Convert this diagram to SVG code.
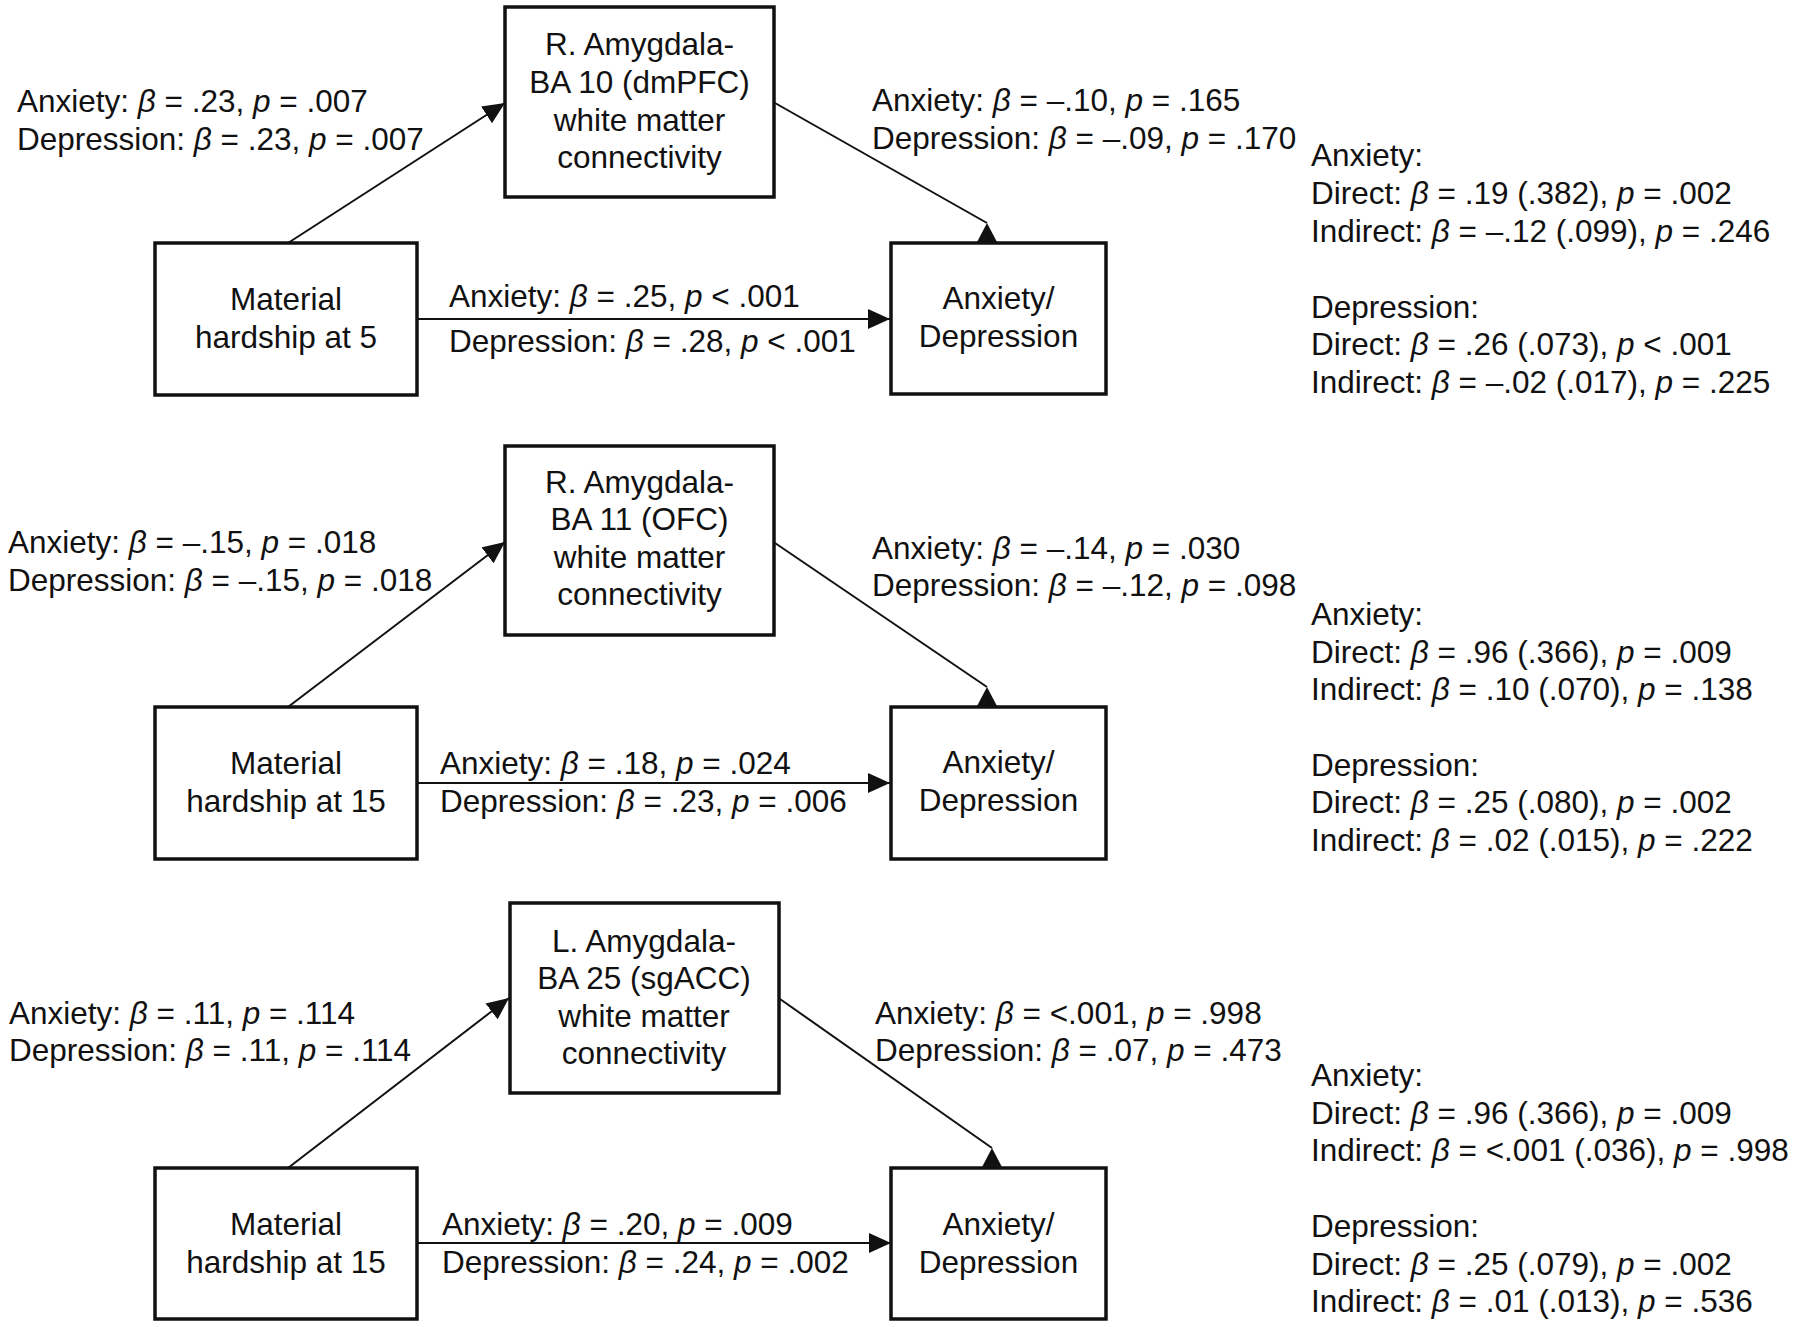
<svg xmlns="http://www.w3.org/2000/svg" width="1800" height="1327" viewBox="0 0 1800 1327">
<style>
text{font-family:"Liberation Sans",Arial,Helvetica,sans-serif;font-size:31.5px;fill:#111}
.c{text-anchor:middle}
.i{font-style:italic}
.box{fill:#fff;stroke:#111;stroke-width:3.5}
.ln{stroke:#111;stroke-width:2;fill:none}
.a{marker-end:url(#ah)}
.u{marker-end:url(#au)}
</style>
<defs>
<marker id="ah" markerUnits="userSpaceOnUse" markerWidth="24" markerHeight="22" refX="22" refY="10" orient="auto"><path d="M0,0 L22,10 L0,20 z" fill="#111"/></marker>
<marker id="au" markerUnits="userSpaceOnUse" markerWidth="24" markerHeight="24" refX="21" refY="11" orient="270"><path d="M0,0 L21,11 L0,22 z" fill="#111"/></marker>
</defs>
<rect width="1800" height="1327" fill="#fff"/>

<g id="connectors">
<line class="ln a" x1="288" y1="243" x2="505" y2="103"/>
<line class="ln u" x1="775" y1="103" x2="987" y2="223"/>
<line class="ln a" x1="417" y1="319" x2="890" y2="319"/>
<line class="ln a" x1="288" y1="707" x2="505" y2="542"/>
<line class="ln u" x1="775" y1="543" x2="987" y2="687"/>
<line class="ln a" x1="417" y1="783" x2="890" y2="783"/>
<line class="ln a" x1="288" y1="1168" x2="509" y2="998"/>
<line class="ln u" x1="780" y1="999" x2="992" y2="1148"/>
<line class="ln a" x1="417" y1="1243" x2="891" y2="1243"/>
</g>

<g id="m1"><rect class="box" x="505" y="7" width="269" height="190"/>
<text class="c" x="639.5" y="55">R. Amygdala-</text>
<text class="c" x="639.5" y="93">BA 10 (dmPFC)</text>
<text class="c" x="639.5" y="131">white matter</text>
<text class="c" x="639.5" y="168">connectivity</text></g>
<g id="x1"><rect class="box" x="155" y="243" width="262" height="152"/>
<text class="c" x="286" y="310">Material</text>
<text class="c" x="286" y="348">hardship at 5</text></g>
<g id="y1"><rect class="box" x="891" y="243" width="215" height="151"/>
<text class="c" x="998.5" y="309">Anxiety/</text>
<text class="c" x="998.5" y="347">Depression</text></g>

<g id="m2"><rect class="box" x="505" y="446" width="269" height="189"/>
<text class="c" x="639.5" y="493">R. Amygdala-</text>
<text class="c" x="639.5" y="530">BA 11 (OFC)</text>
<text class="c" x="639.5" y="568">white matter</text>
<text class="c" x="639.5" y="605">connectivity</text></g>
<g id="x2"><rect class="box" x="155" y="707" width="262" height="152"/>
<text class="c" x="286" y="774">Material</text>
<text class="c" x="286" y="812">hardship at 15</text></g>
<g id="y2"><rect class="box" x="891" y="707" width="215" height="152"/>
<text class="c" x="998.5" y="773">Anxiety/</text>
<text class="c" x="998.5" y="811">Depression</text></g>

<g id="m3"><rect class="box" x="510" y="903" width="269" height="190"/>
<text class="c" x="644" y="952">L. Amygdala-</text>
<text class="c" x="644" y="989">BA 25 (sgACC)</text>
<text class="c" x="644" y="1027">white matter</text>
<text class="c" x="644" y="1064">connectivity</text></g>
<g id="x3"><rect class="box" x="155" y="1168" width="262" height="151"/>
<text class="c" x="286" y="1235">Material</text>
<text class="c" x="286" y="1273">hardship at 15</text></g>
<g id="y3"><rect class="box" x="891" y="1168" width="215" height="151"/>
<text class="c" x="998.5" y="1235">Anxiety/</text>
<text class="c" x="998.5" y="1273">Depression</text></g>

<g id="labels">
<text x="17" y="112">Anxiety: <tspan class="i">β</tspan> = .23, <tspan class="i">p</tspan> = .007</text>
<text x="17" y="150">Depression: <tspan class="i">β</tspan> = .23, <tspan class="i">p</tspan> = .007</text>
<text x="872" y="111">Anxiety: <tspan class="i">β</tspan> = –.10, <tspan class="i">p</tspan> = .165</text>
<text x="872" y="149">Depression: <tspan class="i">β</tspan> = –.09, <tspan class="i">p</tspan> = .170</text>
<text x="449" y="307">Anxiety: <tspan class="i">β</tspan> = .25, <tspan class="i">p</tspan> &lt; .001</text>
<text x="449" y="352">Depression: <tspan class="i">β</tspan> = .28, <tspan class="i">p</tspan> &lt; .001</text>
<text x="1311" y="166">Anxiety:</text>
<text x="1311" y="204">Direct: <tspan class="i">β</tspan> = .19 (.382), <tspan class="i">p</tspan> = .002</text>
<text x="1311" y="242">Indirect: <tspan class="i">β</tspan> = –.12 (.099), <tspan class="i">p</tspan> = .246</text>
<text x="1311" y="318">Depression:</text>
<text x="1311" y="355">Direct: <tspan class="i">β</tspan> = .26 (.073), <tspan class="i">p</tspan> &lt; .001</text>
<text x="1311" y="393">Indirect: <tspan class="i">β</tspan> = –.02 (.017), <tspan class="i">p</tspan> = .225</text>

<text x="8" y="553">Anxiety: <tspan class="i">β</tspan> = –.15, <tspan class="i">p</tspan> = .018</text>
<text x="8" y="591">Depression: <tspan class="i">β</tspan> = –.15, <tspan class="i">p</tspan> = .018</text>
<text x="872" y="559">Anxiety: <tspan class="i">β</tspan> = –.14, <tspan class="i">p</tspan> = .030</text>
<text x="872" y="596">Depression: <tspan class="i">β</tspan> = –.12, <tspan class="i">p</tspan> = .098</text>
<text x="440" y="774">Anxiety: <tspan class="i">β</tspan> = .18, <tspan class="i">p</tspan> = .024</text>
<text x="440" y="812">Depression: <tspan class="i">β</tspan> = .23, <tspan class="i">p</tspan> = .006</text>
<text x="1311" y="625">Anxiety:</text>
<text x="1311" y="663">Direct: <tspan class="i">β</tspan> = .96 (.366), <tspan class="i">p</tspan> = .009</text>
<text x="1311" y="700">Indirect: <tspan class="i">β</tspan> = .10 (.070), <tspan class="i">p</tspan> = .138</text>
<text x="1311" y="776">Depression:</text>
<text x="1311" y="813">Direct: <tspan class="i">β</tspan> = .25 (.080), <tspan class="i">p</tspan> = .002</text>
<text x="1311" y="851">Indirect: <tspan class="i">β</tspan> = .02 (.015), <tspan class="i">p</tspan> = .222</text>

<text x="9" y="1024">Anxiety: <tspan class="i">β</tspan> = .11, <tspan class="i">p</tspan> = .114</text>
<text x="9" y="1061">Depression: <tspan class="i">β</tspan> = .11, <tspan class="i">p</tspan> = .114</text>
<text x="875" y="1024">Anxiety: <tspan class="i">β</tspan> = &lt;.001, <tspan class="i">p</tspan> = .998</text>
<text x="875" y="1061">Depression: <tspan class="i">β</tspan> = .07, <tspan class="i">p</tspan> = .473</text>
<text x="442" y="1235">Anxiety: <tspan class="i">β</tspan> = .20, <tspan class="i">p</tspan> = .009</text>
<text x="442" y="1273">Depression: <tspan class="i">β</tspan> = .24, <tspan class="i">p</tspan> = .002</text>
<text x="1311" y="1086">Anxiety:</text>
<text x="1311" y="1124">Direct: <tspan class="i">β</tspan> = .96 (.366), <tspan class="i">p</tspan> = .009</text>
<text x="1311" y="1161">Indirect: <tspan class="i">β</tspan> = &lt;.001 (.036), <tspan class="i">p</tspan> = .998</text>
<text x="1311" y="1237">Depression:</text>
<text x="1311" y="1275">Direct: <tspan class="i">β</tspan> = .25 (.079), <tspan class="i">p</tspan> = .002</text>
<text x="1311" y="1312">Indirect: <tspan class="i">β</tspan> = .01 (.013), <tspan class="i">p</tspan> = .536</text>
</g>
</svg>
